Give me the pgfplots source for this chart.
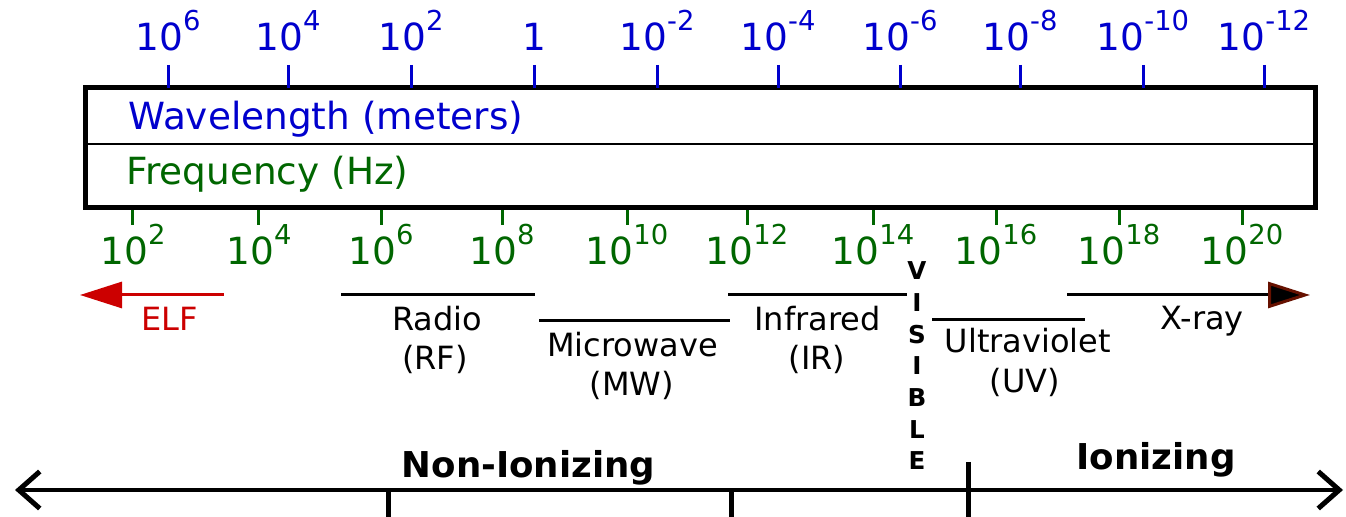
\documentclass[border=0pt]{standalone}
\usepackage{pgfplots}
\pgfplotsset{compat=1.18}
\usepackage{fontspec}
\setmainfont{DejaVu Sans}
\usetikzlibrary{arrows.meta}
\definecolor{wblue}{RGB}{0,0,205}
\definecolor{fgreen}{RGB}{0,102,0}
\definecolor{elfred}{RGB}{204,0,0}
\definecolor{xdark}{RGB}{102,17,0}
\newcommand{\tp}[1]{10\raisebox{10pt}{\fontsize{13.7}{14}\selectfont #1}}
\newcommand{\lab}{\fontsize{18.7}{20}\selectfont}
\newcommand{\band}{\fontsize{16}{18}\selectfont}
\newcommand{\bigb}{\fontsize{17.8}{20}\selectfont\bfseries}
\newcommand{\vis}{\fontsize{12.3}{13}\selectfont\bfseries}
\tikzset{txt/.style={inner sep=0pt, anchor=base}}
\begin{document}
\begin{tikzpicture}
% ---------- whole picture in pixel coordinates ----------
\begin{axis}[scale only axis, width=673pt, height=258.5pt,
  xmin=0, xmax=1346, ymin=0, ymax=517, y dir=reverse,
  hide axis, clip=false, no marks]
% band lines
\addplot[elfred, line width=1.5pt, arrows={Triangle[length=21pt,width=13pt]-}] coordinates {(80,295) (224,295)};
\addplot[black, line width=1.5pt] coordinates {(341,295) (535,295)};
\addplot[black, line width=1.5pt] coordinates {(539,321) (730,321)};
\addplot[black, line width=1.5pt] coordinates {(728,295) (907,295)};
\addplot[black, line width=1.5pt] coordinates {(932,320) (1085,320)};
\addplot[black, line width=1.5pt, arrows={-Triangle[length=21pt,width=13pt,color=xdark,fill=black]}] coordinates {(1067,295) (1310,295)};
% ionizing axis
\addplot[black, line width=2pt, arrows={Straight Barb[length=10.5pt,width=18.5pt,line width=2.5pt]-Straight Barb[length=10.5pt,width=18.5pt,line width=2.5pt]}] coordinates {(15,490) (1343,490)};
\addplot[black, line width=2.5pt] coordinates {(388,490) (388,517)};
\addplot[black, line width=2.5pt] coordinates {(731,490) (731,517)};
\addplot[black, line width=2.5pt] coordinates {(968,462) (968,517)};
% box texts
\node[txt, anchor=base west, text=wblue, font=\lab] at (axis cs:128,130) {Wavelength (meters)};
\node[txt, anchor=base west, text=fgreen, font=\lab] at (axis cs:126,185) {Frequency (Hz)};
% band labels
\node[txt, text=elfred, font=\band] at (axis cs:169.5,331) {ELF};
\node[txt, font=\band] at (axis cs:437,331) {Radio};
\node[txt, font=\band] at (axis cs:435,370) {(RF)};
\node[txt, font=\band] at (axis cs:632.5,357) {Microwave};
\node[txt, font=\band] at (axis cs:632,396) {(MW)};
\node[txt, font=\band] at (axis cs:817.5,331) {Infrared};
\node[txt, font=\band] at (axis cs:817,370) {(IR)};
\node[txt, font=\band] at (axis cs:1028,353) {Ultraviolet};
\node[txt, font=\band] at (axis cs:1025,393) {(UV)};
\node[txt, font=\band] at (axis cs:1202,330) {X-ray};
% visible
\node[txt, font=\vis] at (axis cs:917,280) {V};
\node[txt, font=\vis] at (axis cs:917,311.7) {I};
\node[txt, font=\vis] at (axis cs:917,343.3) {S};
\node[txt, font=\vis] at (axis cs:917,375) {I};
\node[txt, font=\vis] at (axis cs:917,406.7) {B};
\node[txt, font=\vis] at (axis cs:917,438.3) {L};
\node[txt, font=\vis] at (axis cs:917,470) {E};
% ionizing labels
\node[txt, font=\bigb] at (axis cs:528.5,478) {Non-Ionizing};
\node[txt, font=\bigb] at (axis cs:1156,470) {Ionizing};
\end{axis}
% ---------- frequency box (bottom ticks) ----------
\begin{axis}[at={(42.75pt,154.5pt)}, anchor=south west,
  scale only axis, width=615pt, height=60pt, clip=false,
  xmin=85.5, xmax=1315.5, ymin=0, ymax=1, ytick=\empty,
  axis line style={draw=none},
  xtick={133,259,381,502,627,747,873,996,1119,1242},
  xticklabels={\tp{2},\tp{4},\tp{6},\tp{8},\tp{10},\tp{12},\tp{14},\tp{16},\tp{18},\tp{20}},
  xtick pos=left, xticklabel pos=left, tick align=outside,
  major tick length=8.5pt,
  x tick style={color=fgreen, line width=1.5pt},
  xticklabel style={text=fgreen, font=\lab, anchor=base, yshift=-20pt}]
\draw[line width=2.5pt] (rel axis cs:0,0) rectangle (rel axis cs:1,1);
\draw[line width=1pt] (rel axis cs:0,0.5333) -- (rel axis cs:1,0.5333);
\end{axis}
% ---------- wavelength ticks (top) ----------
\begin{axis}[at={(42.75pt,154.5pt)}, anchor=south west,
  scale only axis, width=615pt, height=60pt, clip=false,
  xmin=85.5, xmax=1315.5, ymin=0, ymax=1, ytick=\empty,
  axis line style={draw=none},
  xtick={168,288,411,534,657,778,900,1020,1143,1264},
  xticklabels={\tp{6},\tp{4},\tp{2},1,\tp{-2},\tp{-4},\tp{-6},\tp{-8},\tp{-10},\tp{-12}},
  xtick pos=right, xticklabel pos=right, tick align=outside,
  major tick length=11.5pt,
  x tick style={color=wblue, line width=1.5pt},
  xticklabel style={text=wblue, font=\lab, anchor=base, yshift=7pt}]
\end{axis}
\pgfresetboundingbox
\path (0,0) rectangle (673pt,258.5pt);
\end{tikzpicture}
\end{document}
